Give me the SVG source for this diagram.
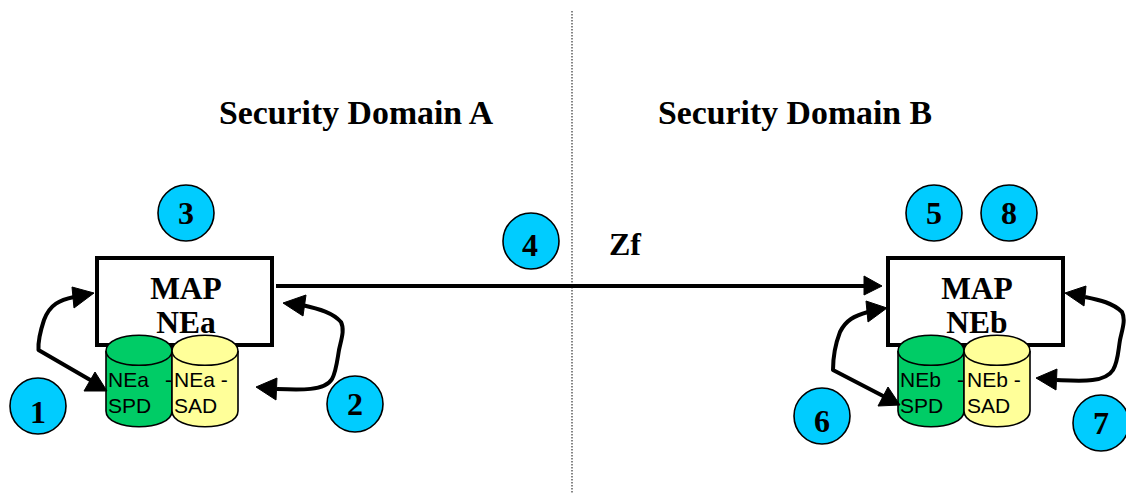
<svg xmlns="http://www.w3.org/2000/svg" width="1126" height="495" viewBox="0 0 1126 495">
<style>
.s{font-family:"Liberation Serif","Times New Roman",serif;font-weight:700;fill:#000}
.t{font-size:33.8px}
.z{font-size:32px}
.m{font-size:31.5px;text-anchor:middle}
.n{font-size:32px;text-anchor:middle}
.l{font-family:"Liberation Sans",Arial,sans-serif;font-size:21px;fill:#000}
.c{fill:#00ccff;stroke:#000;stroke-width:1.6}
.b{fill:#fff;stroke:#000;stroke-width:4}
.g{fill:#00cc66;stroke:#000;stroke-width:1.6}
.y{fill:#ffff99;stroke:#000;stroke-width:1.6}
.w{fill:none;stroke:#000;stroke-width:4;stroke-linejoin:round;stroke-linecap:butt}
.h{fill:#000;stroke:#000;stroke-width:1;stroke-linejoin:round}
</style>
<rect width="1126" height="495" fill="#fff"/>
<line id="divider" x1="572" y1="11" x2="572" y2="494" stroke="#444" stroke-width="1.3" stroke-dasharray="1.5 1.5"/>
<text class="s t" x="219" y="124">Security Domain A</text>
<text class="s t" x="658" y="124">Security Domain B</text>
<text class="s z" x="609" y="255">Zf</text>
<g id="map-nea"><rect class="b" x="97" y="258" width="175" height="87"/><text class="s m" x="186" y="299">MAP</text><text class="s m" x="186" y="333">NEa</text></g>
<g id="map-neb"><rect class="b" x="888" y="258" width="175" height="87"/><text class="s m" x="977" y="299">MAP</text><text class="s m" x="977" y="333">NEb</text></g>
<g id="nea-spd"><path class="g" d="M106 351C106 330 172 330 172 351V411C172 432 106 432 106 411Z"/><path class="g" d="M106 351C106 370 172 370 172 351" fill="none"/><text class="l" x="108" y="387">NEa</text><text class="l" x="165" y="387">-</text><text class="l" x="108" y="413">SPD</text></g>
<g id="nea-sad"><path class="y" d="M172 351C172 330 238 330 238 351V411C238 432 172 432 172 411Z"/><path class="y" d="M172 351C172 370 238 370 238 351" fill="none"/><text class="l" x="174" y="387">NEa -</text><text class="l" x="174" y="413">SAD</text></g>
<g id="neb-spd"><path class="g" d="M898 351C898 330 964 330 964 351V411C964 432 898 432 898 411Z"/><path class="g" d="M898 351C898 370 964 370 964 351" fill="none"/><text class="l" x="900" y="387">NEb</text><text class="l" x="957" y="387">-</text><text class="l" x="900" y="413">SPD</text></g>
<g id="neb-sad"><path class="y" d="M964 351C964 330 1030 330 1030 351V411C1030 432 964 432 964 411Z"/><path class="y" d="M964 351C964 370 1030 370 1030 351" fill="none"/><text class="l" x="967" y="387">NEb -</text><text class="l" x="967" y="413">SAD</text></g>
<g id="connectors">
<path class="w" d="M276 286H868"/><path class="h" d="M882 286L864 276V295Z"/>
<path class="w" d="M74 297C60 300 50 304 44 320C40 332 38 342 38.500 350L92 381"/><path class="h" d="M94 293L72 287L74 308Z M107 391L84 391L95 372Z"/>
<path class="w" d="M302 305C320 309 333 313 341 322C345 330 341 340 339 350C337 362 336 372 332 379C325 391 300 390 277 389"/><path class="h" d="M283 303L306 295L303 316Z M256 387L277 378L276 400Z"/>
<path class="w" d="M868 312C854 316 846 320 840 332C835 345 833 356 833 370L885 397"/><path class="h" d="M887 308L866 301L868 322Z M900 405L878 406L888 387Z"/>
<path class="w" d="M1085 297C1100 300 1113 303 1122 312C1126 320 1122 330 1120 340C1118 352 1118 362 1113 370C1105 383 1080 381 1057 380"/><path class="h" d="M1065 293L1086 286L1084 306Z M1036 378L1057 369L1056 390Z"/>
</g>
<g id="n1"><circle class="c" cx="38" cy="406" r="28"/><text class="s n" x="38" y="423">1</text></g>
<g id="n2"><circle class="c" cx="355" cy="404" r="28"/><text class="s n" x="355" y="415">2</text></g>
<g id="n3"><circle class="c" cx="186" cy="213" r="28"/><text class="s n" x="186" y="224">3</text></g>
<g id="n4"><circle class="c" cx="531" cy="241" r="28"/><text class="s n" x="530" y="256">4</text></g>
<g id="n5"><circle class="c" cx="934" cy="213" r="28"/><text class="s n" x="934" y="224">5</text></g>
<g id="n8"><circle class="c" cx="1009" cy="213" r="28"/><text class="s n" x="1009" y="224">8</text></g>
<g id="n6"><circle class="c" cx="822" cy="416" r="28"/><text class="s n" x="822" y="432">6</text></g>
<g id="n7"><circle class="c" cx="1101" cy="423" r="28"/><text class="s n" x="1101" y="434">7</text></g>
</svg>
